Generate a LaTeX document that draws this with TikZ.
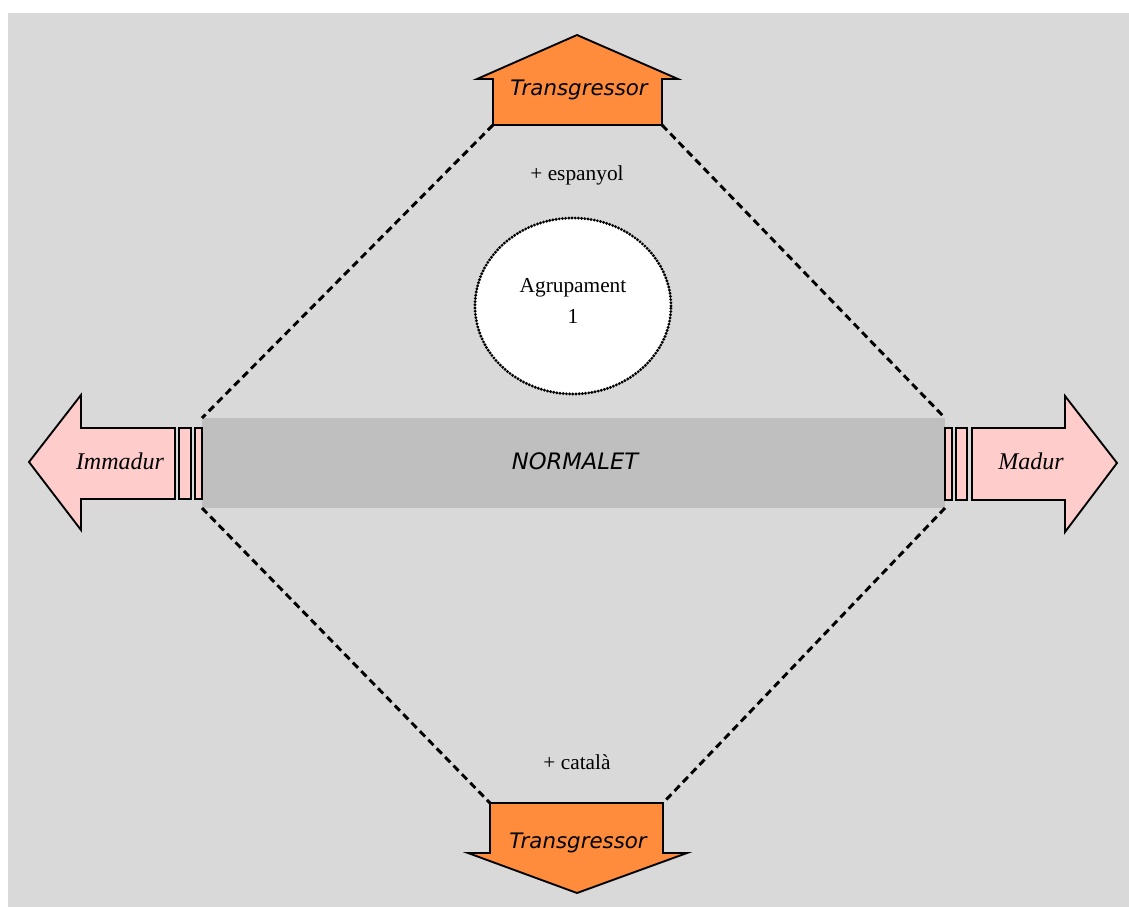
\documentclass[tikz,border=0pt]{standalone}
\usepackage{fontspec}
\usetikzlibrary{shapes.geometric}
\setmainfont{Liberation Serif}
\newfontfamily\vsans{DejaVu Sans}
\definecolor{bg}{HTML}{D9D9D9}
\definecolor{barc}{HTML}{BFBFBF}
\definecolor{orangec}{HTML}{FF8C3C}
\definecolor{pinkc}{HTML}{FFCCCC}
\tikzset{
  shapeline/.style={draw=black, line width=1.4pt, line join=miter},
  orangearrow/.style={shapeline, fill=orangec},
  pinkarrow/.style={shapeline, fill=pinkc},
  dashlink/.style={draw=black, line width=2.2pt, dash pattern=on 5.5pt off 3.5pt},
  sanslabel/.style={font=\vsans\itshape\fontsize{16}{19}\selectfont, inner sep=0pt},
  bandlabel/.style={font=\vsans\itshape\fontsize{17}{20}\selectfont, inner sep=0pt},
  seriflabel/.style={font=\fontsize{16}{19}\selectfont, inner sep=0pt},
  italiclabel/.style={font=\itshape\fontsize{18}{21}\selectfont, inner sep=0pt},
}
\begin{document}
\begin{tikzpicture}[x=0.75pt, y=-0.75pt]
\useasboundingbox (0,0) rectangle (1129,907);
\fill[bg] (8,13) rectangle (1129,907);

% central grey band
\fill[barc] (202,418) rectangle (945,508);
\coordinate (bandNW) at (202,418);
\coordinate (bandSW) at (202,508);
\coordinate (bandNE) at (945,418);
\coordinate (bandSE) at (945,508);
\node[bandlabel] (normalet) at (575,461) {NORMALET};

% top arrow
\path[orangearrow] (577,35) -- (678,79) -- (662,79) -- (662,125) -- (493,125) -- (493,79) -- (477,79) -- cycle;
\coordinate (topL) at (493,125);
\coordinate (topR) at (662,125);
\node[sanslabel] (toptext) at (579,90) {Transgressor};

% bottom arrow
\path[orangearrow] (490,803) -- (663,803) -- (663,853) -- (687,853) -- (577,893) -- (468,853) -- (490,853) -- cycle;
\coordinate (botL) at (490,803);
\coordinate (botR) at (663,803);
\node[sanslabel] (bottext) at (578,843) {Transgressor};

% left arrow
\path[pinkarrow] (29,462) -- (81,395) -- (81,428) -- (175,428) -- (175,499) -- (81,499) -- (81,530) -- cycle;
\path[pinkarrow] (179,428) rectangle (191,499);
\path[pinkarrow] (195,428) rectangle (202,499);
\node[italiclabel] (immadur) at (120,461) {Immadur};

% right arrow
\path[pinkarrow] (972,428) -- (1065,428) -- (1065,396) -- (1117,463) -- (1065,532) -- (1065,500) -- (972,500) -- cycle;
\path[pinkarrow] (945,428) rectangle (952,500);
\path[pinkarrow] (956,428) rectangle (967,500);
\node[italiclabel] (madur) at (1031,461) {Madur};

% dashed diamond
\draw[dashlink] (topL) -- (bandNW);
\draw[dashlink] (topR) -- (bandNE);
\draw[dashlink] (bandSW) -- (botL);
\draw[dashlink] (bandSE) -- (botR);

% labels
\node[seriflabel] (esp) at (577,175) {+ espanyol};
\node[seriflabel] (cat) at (577,762) {+ català};

% group circle
\node[draw=black, fill=white, ellipse, minimum width=147pt, minimum height=132pt, line width=2.4pt,
      dash pattern=on 0pt off 2.4pt, line cap=round, inner sep=0pt] (group) at (573,306) {};
\node[seriflabel, align=center] (grouptext) at (573,301) {Agrupament\\[4pt]1};
\end{tikzpicture}
\end{document}
